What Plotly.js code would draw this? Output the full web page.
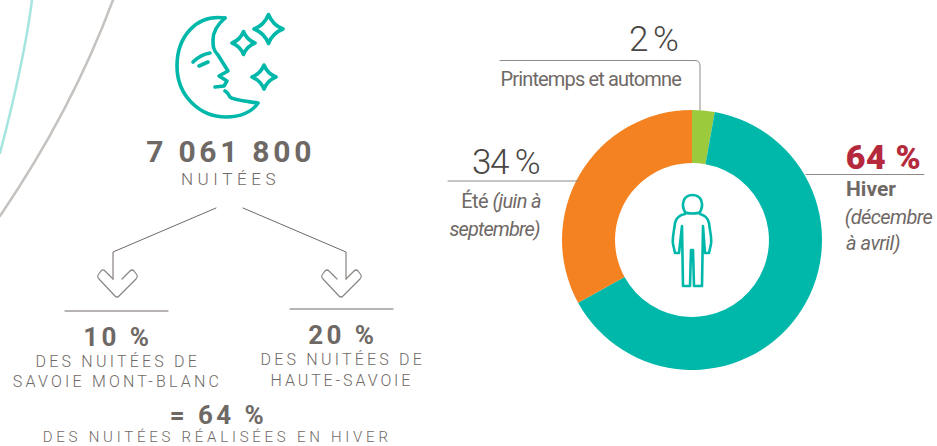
<!DOCTYPE html>
<html><head><meta charset="utf-8">
<script src="https://cdn.plot.ly/plotly-3.0.1.min.js"></script>
<style>html,body{margin:0;padding:0;background:#fff;overflow:hidden}#c{width:937px;height:446px}
.shapelayer path{stroke-linejoin:round;stroke-linecap:round}</style>
</head><body><div id="c"></div>
<script>
// Slice sizes as drawn in the ring, in clockwise order from the top
const seasons = ['Printemps et automne', 'Hiver', 'Été'];
const drawnShare = [2.8, 64.2, 33];
const sliceColors = ['#9BCB3C', '#00B8A9', '#F58220'];

const GREY = '#6F6966', DARK = '#4A4644', RED = '#B5293C', TEAL = '#00B8A9';
const DIN = 'Roboto, sans-serif';

// text, x, y, size, colour, family, weight, letter-spacing, anchor
const labels = [
  ['7 061 800', 230, 151, 30, GREY, DIN, 700, 3.7, 'center'],
  ['NUITÉES', 230, 179, 17, GREY, DIN, 300, 4.6, 'center'],
  ['10 %', 118, 337, 26, GREY, DIN, 700, 3.4, 'center'],
  ['DES NUITÉES DE', 118, 361, 16, GREY, DIN, 300, 3.2, 'center'],
  ['SAVOIE MONT-BLANC', 117, 381, 16, GREY, DIN, 300, 3.2, 'center'],
  ['20 %', 343, 335, 26, GREY, DIN, 700, 3.4, 'center'],
  ['DES NUITÉES DE', 343, 359, 16, GREY, DIN, 300, 3.2, 'center'],
  ['HAUTE-SAVOIE', 342, 380, 16, GREY, DIN, 300, 2.9, 'center'],
  ['= 64 %', 218, 415, 26, GREY, DIN, 700, 3.4, 'center'],
  ['DES NUITÉES RÉALISÉES EN HIVER', 217, 437, 15, GREY, DIN, 300, 3.75, 'center'],
  ['2 %', 653, 39, 35, DARK, DIN, 300, -2, 'center'],
  ['Printemps et automne', 590, 79, 20, GREY, DIN, 400, -0.85, 'center'],
  ['34 %', 505, 162, 35, DARK, DIN, 300, -1.5, 'center'],
  ['Été <i>(juin à</i>', 545, 201, 20, GREY, DIN, 400, -0.6, 'right'],
  ['<i>septembre)</i>', 545, 229, 20, GREY, DIN, 400, -0.9, 'right'],
  ['64 %', 883.5, 157, 34, RED, DIN, 900, 0.6, 'center'],
  ['Hiver', 845, 189, 21, GREY, DIN, 700, 0, 'left'],
  ['<i>(décembre</i>', 841, 217, 20, GREY, DIN, 400, -0.6, 'left'],
  ['<i>à avril)</i>', 843, 243, 20, GREY, DIN, 400, -0.5, 'left']
];

// Decoration paths, in the picture's own pixel grid
const line = (d, color, width) => ({type: 'path', xref: 'x', yref: 'y', path: d, line: {color, width}, layer: 'above'});
const star = (x, y, r) => {
  const k = r * 0.28;
  return `M${x},${y - r} Q${x + k},${y - k} ${x + r},${y} Q${x + k},${y + k} ${x},${y + r} Q${x - k},${y + k} ${x - r},${y} Q${x - k},${y - k} ${x},${y - r} Z`;
};
const shapes = [
  line('M32,0 Q24,62 0,153', '#A5E5DF', 2.5),
  line('M113,0 Q72,110 0,216', '#C5C2BF', 2.5),
  // moon
  line('M225,18 C195,14 177,38 177,66 C177,96 200,117 226,117 C240,117 252,112 258,103 C245,101 233,100 230,97 C228,93 227,92 225,91', TEAL, 3.6),
  line('M225,18 C218,24 213,32 213,40 C213,46 213,50 218,55 L228,71 L219,76 L227,81 L224,86 L215,87', TEAL, 3.6),
  line('M193,62 C198,57 204,54 210,53', TEAL, 3.6),
  line('M199,66 L208,62', TEAL, 3.6),
  line(star(268.5, 29, 14.5), TEAL, 3.6),
  line(star(243.5, 43, 11.5), TEAL, 3.6),
  line(star(264, 77, 12), TEAL, 3.6),
  // arrows
  line('M216,208 L113,252 L113,279', GREY, 1),
  line('M113,279 L105,271 Q103,269 101,271 L98,275 Q97,277 99,279 L115,296 Q117,298 119,296 L136,279 Q138,277 137,275 L134,271 Q132,269 130,271 L122,279', '#8A8583', 1.2),
  line('M243,208 L346,252 L346,279', GREY, 1),
  line('M337,279 L329,271 Q327,269 325,271 L322,275 Q321,277 323,279 L339,296 Q341,298 343,296 L360,279 Q362,277 361,275 L358,271 Q356,269 354,271 L346,279', '#8A8583', 1.2),
  line('M65,311 L168,311', GREY, 1),
  line('M290,309 L393,309', GREY, 1),
  // leader lines of the ring
  line('M500,60.5 L695,60.5 Q700,60.5 700,66 L700,110', '#8F8A87', 1),
  line('M448,181 L578,181', '#8F8A87', 1),
  line('M806,174.5 L924,174.5', '#8F8A87', 1),
  // person
  line('M685,212 C681,205 683,195 692.5,195 C702,195 704,205 700,212 C698,214 687,214 685,212 Z', TEAL, 2.6),
  line('M685,214 C680,215 676,218 675,223 C674,232 672,238 673,244 L675,253 L679,253 L682,226 L683,286 L690,286 L691,250 L693,250 L694,286 L702,286 L703,226 L705,253 L709,253 L711,244 C712,238 710,232 709,223 C708,218 704,215 700,214', TEAL, 2.6)
];

const traces = [
  {type: 'scatter', x: [], y: [], hoverinfo: 'skip', showlegend: false},
  {type: 'pie', labels: seasons, values: drawnShare, sort: false, direction: 'clockwise', rotation: 0,
   hole: 0.592, textinfo: 'none', hoverinfo: 'label', showlegend: false,
   marker: {colors: sliceColors, line: {width: 0}},
   domain: {x: [562 / 937, 822 / 937], y: [(446 - 370) / 446, (446 - 110) / 446]}}
];

const layout = {
  width: 937, height: 446, margin: {l: 0, r: 0, t: 0, b: 0},
  paper_bgcolor: '#fff', plot_bgcolor: 'rgba(0,0,0,0)', showlegend: false,
  xaxis: {range: [0, 937], visible: false, fixedrange: true},
  yaxis: {range: [446, 0], visible: false, fixedrange: true},
  shapes,
  annotations: labels.map(([text, x, y, size, color, family, weight, , anchor]) => ({
    text, x, y, xref: 'x', yref: 'y', showarrow: false, xanchor: anchor, yanchor: 'middle', borderpad: 0,
    font: {size, color, family, weight}
  }))
};

const css = labels.map((l, i) => `.annotation[data-index="${i}"] text{letter-spacing:${l[7]}px}`).join('\n');
const styleEl = document.createElement('style');
styleEl.textContent = css;
document.head.appendChild(styleEl);

Plotly.newPlot('c', traces, layout, {displayModeBar: false, staticPlot: true});
</script></body></html>
